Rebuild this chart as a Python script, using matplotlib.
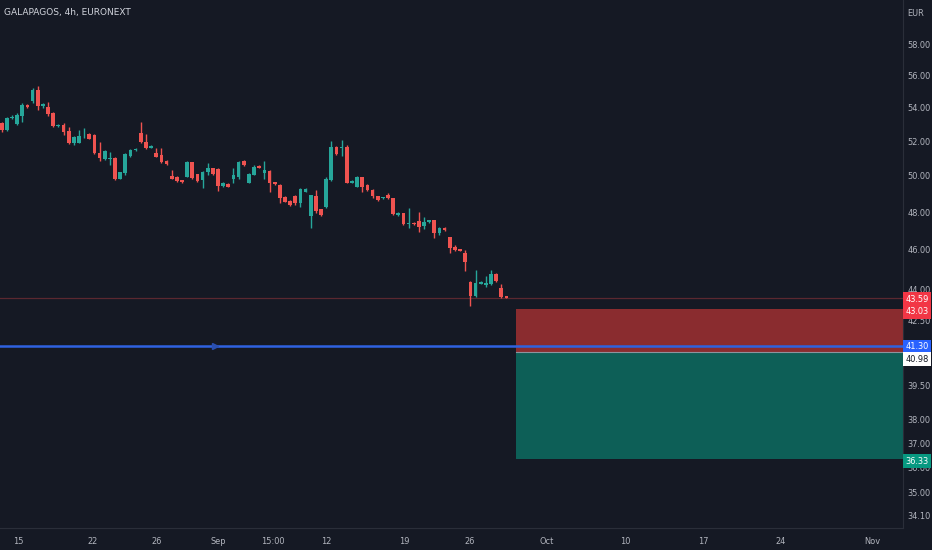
import numpy as np
import matplotlib
matplotlib.use('Agg')
import matplotlib.pyplot as plt
from matplotlib.ticker import FixedLocator, NullLocator
from matplotlib import font_manager

# 4h candles, GALAPAGOS (EURONEXT)
opens = [53.05, 52.65, 53.36, 53.02, 53.46, 54.14, 54.40, 55.07, 54.08, 54.02,
         53.69, 52.90, 52.96, 52.59, 51.87, 51.90, 52.33, 52.40, 52.36, 51.28,
         50.97, 50.96, 51.03, 49.85, 50.14, 51.14, 51.47, 52.49, 51.96, 51.60,
         51.31, 51.18, 50.84, 50.00, 49.95, 49.76, 49.95, 50.77, 50.09, 49.76,
         50.23, 50.43, 50.39, 49.45, 49.56, 49.81, 49.93, 50.84, 49.61, 50.05,
         50.56, 50.14, 50.29, 49.63, 49.49, 48.84, 48.62, 48.88, 48.48, 49.12,
         47.80, 48.88, 48.15, 48.27, 49.76, 51.67, 51.61, 51.63, 49.61, 49.39,
         49.91, 49.49, 49.21, 48.88, 48.75, 48.94, 48.75, 47.84, 47.93, 47.36,
         47.43, 47.52, 47.27, 47.45, 47.57, 46.86, 47.16, 46.67, 46.16, 46.04,
         45.85, 44.38, 43.69, 44.29, 44.22, 44.27, 44.77, 44.08, 43.66]
highs = [53.12, 53.44, 53.55, 53.69, 54.30, 54.20, 55.18, 55.32, 54.25, 54.36,
         53.75, 53.00, 53.08, 52.85, 52.30, 52.65, 52.77, 52.45, 52.40, 51.96,
         51.45, 51.37, 51.06, 50.22, 51.28, 51.52, 51.58, 53.10, 52.40, 51.75,
         51.57, 51.60, 50.88, 50.33, 49.98, 49.78, 50.84, 50.80, 50.12, 50.27,
         50.71, 50.46, 50.43, 49.65, 49.60, 50.46, 50.84, 50.88, 50.14, 50.61,
         50.60, 50.86, 50.33, 49.66, 49.52, 48.88, 48.66, 48.92, 49.30, 49.30,
         48.95, 49.21, 48.18, 49.95, 52.00, 51.72, 52.06, 51.76, 49.76, 49.99,
         49.95, 49.52, 49.25, 48.90, 48.84, 49.05, 48.79, 47.98, 47.96, 48.20,
         47.46, 47.98, 47.75, 47.60, 47.59, 47.22, 47.20, 46.69, 46.25, 46.06,
         45.99, 44.41, 44.97, 44.41, 44.66, 44.97, 44.80, 44.29, 43.68]
lows = [52.53, 52.61, 53.28, 52.94, 53.14, 54.00, 54.26, 53.85, 54.00, 53.48,
        52.85, 52.85, 52.36, 51.83, 51.79, 51.88, 52.18, 52.10, 51.24, 50.86,
        50.92, 50.61, 49.76, 49.82, 50.05, 51.10, 51.44, 51.87, 51.51, 51.57,
        51.05, 50.71, 50.62, 49.83, 49.68, 49.60, 49.91, 49.81, 49.63, 49.34,
        50.05, 50.03, 49.16, 49.40, 49.36, 49.58, 49.85, 50.58, 49.58, 50.02,
        50.42, 49.85, 49.12, 49.49, 48.49, 48.55, 48.34, 48.39, 48.25, 49.10,
        47.16, 47.93, 47.80, 48.21, 49.72, 51.18, 51.12, 49.58, 49.58, 49.36,
        49.09, 49.18, 48.75, 48.62, 48.71, 48.72, 47.84, 47.80, 47.33, 47.13,
        47.32, 46.95, 47.10, 47.42, 46.63, 46.77, 47.00, 45.82, 45.96, 45.92,
        44.92, 43.19, 43.64, 44.26, 44.12, 44.22, 44.38, 43.55, 43.55]
closes = [52.65, 53.38, 53.42, 53.55, 54.14, 54.05, 55.07, 54.09, 54.20, 53.61,
          52.89, 52.96, 52.55, 51.87, 52.26, 52.31, 52.37, 52.14, 51.28, 50.99,
          51.39, 51.03, 49.81, 50.19, 51.22, 51.47, 51.55, 51.93, 51.57, 51.72,
          51.10, 50.77, 50.67, 49.85, 49.71, 49.63, 50.80, 49.89, 49.72, 50.23,
          50.43, 50.09, 49.45, 49.60, 49.39, 50.05, 50.80, 50.61, 50.09, 50.52,
          50.46, 50.33, 49.61, 49.52, 48.75, 48.57, 48.37, 48.48, 49.25, 49.26,
          48.91, 48.05, 47.84, 49.80, 51.63, 51.24, 51.65, 49.61, 49.72, 49.95,
          49.39, 49.21, 48.88, 48.66, 48.81, 48.79, 47.87, 47.95, 47.36, 47.43,
          47.35, 47.18, 47.48, 47.57, 46.86, 47.13, 47.04, 46.08, 45.99, 45.95,
          45.39, 43.68, 44.33, 44.38, 44.33, 44.77, 44.41, 43.62, 43.59]

# time axis (bar index) labels
xtick_pos = [3.2, 17.7, 30, 42, 52.7, 63, 78.1, 90.9, 105.9, 121, 136.2, 151.3, 169]
xtick_labels = ['15', '22', '26', 'Sep', '15:00', '12', '19', '26', 'Oct', '10', '17', '24', 'Nov']
ytick_vals = [58.0, 56.0, 54.0, 52.0, 50.0, 48.0, 46.0, 44.0, 42.5, 39.5, 38.0, 37.0, 36.0, 35.0, 34.1]

# short position tool + lines
last_price = 43.59
stop_price = 43.03
entry_price = 40.98
target_price = 36.33
hline_price = 41.30
position_start = 99.9

BG = '#151924'
UP = '#26a69a'
DOWN = '#ef5350'
TXT = '#b2b5be'

# narrow font for the price scale (falls back to DejaVu Sans)
narrow = font_manager.FontProperties(family='DejaVu Sans', stretch='condensed', size=6.6)

fig = plt.figure(figsize=(9.32, 5.5), dpi=100, facecolor=BG)
ax = fig.add_axes([0, 22 / 550, 903 / 932, 528 / 550], facecolor=BG)
ax.set_yscale('log')
x_left, x_right = -0.33, 175.0
ax.set_xlim(x_left, x_right)
ax.set_ylim(33.63, 60.95)

o = np.array(opens)
h = np.array(highs)
l = np.array(lows)
c = np.array(closes)
x = np.arange(len(o))
colors = [UP if cc >= oo else DOWN for oo, cc in zip(o, c)]

ax.vlines(x, l, h, colors=colors, linewidth=1.0, zorder=3)
body_lo = np.minimum(o, c)
body_h = np.maximum(np.abs(c - o), 0.05)
ax.bar(x, body_h, bottom=body_lo, width=0.72, color=colors, linewidth=0, zorder=4)

# last price line
ax.axhline(last_price, color='#5b2830', linewidth=0.9, zorder=2)

# short position zones
ax.fill_between([position_start, x_right], entry_price, stop_price, color='#8a2c2f', linewidth=0, zorder=1)
ax.fill_between([position_start, x_right], target_price, entry_price, color='#0d5f57', linewidth=0, zorder=1)
ax.plot([position_start, x_right], [entry_price, entry_price], color='#8d939e', linewidth=0.8, zorder=2)

# horizontal line
ax.axhline(hline_price, color='#2f62e0', linewidth=1.8, zorder=5)
ax.plot([41.5], [hline_price], marker='>', markersize=4, color='#2a4fb0', zorder=6)

# axes styling
for side in ['top', 'left']:
    ax.spines[side].set_visible(False)
for side in ['right', 'bottom']:
    ax.spines[side].set_color('#2a2e39')
    ax.spines[side].set_linewidth(0.8)

ax.yaxis.tick_right()
ax.yaxis.set_major_locator(FixedLocator(ytick_vals))
ax.yaxis.set_minor_locator(NullLocator())
ax.set_yticklabels([f'{v:.2f}' for v in ytick_vals])
ax.tick_params(axis='y', length=0, pad=3, labelcolor=TXT)
for t in ax.get_yticklabels():
    t.set_fontproperties(narrow)

ax.set_xticks(xtick_pos)
ax.set_xticklabels(xtick_labels)
ax.tick_params(axis='x', length=0, pad=6.5, labelcolor=TXT)
for t in ax.get_xticklabels():
    t.set_fontproperties(narrow)


def price_tag(price, text, bg, fg, dy=0):
    ax.annotate(text, xy=(1, price), xycoords=('axes fraction', 'data'),
                xytext=(1.8, dy), textcoords='offset points', ha='left', va='center',
                fontproperties=narrow, color=fg, annotation_clip=False, zorder=10,
                bbox=dict(boxstyle='square,pad=0.25', fc=bg, ec='none'))


price_tag(last_price, f'{last_price:.2f}', '#f23645', 'white', -1.0)
price_tag(stop_price, f'{stop_price:.2f}', '#f23645', 'white', -2.0)
price_tag(hline_price, f'{hline_price:.2f}', '#2962ff', 'white', -1.0)
price_tag(entry_price, f'{entry_price:.2f}', 'white', '#131722', -4.8)
price_tag(target_price, f'{target_price:.2f}', '#089981', 'white', -1.2)

fig.text(907 / 932, 1 - 13 / 550, 'EUR', fontproperties=narrow, color=TXT, ha='left', va='center')
fig.text(4 / 932, 1 - 12 / 550, 'GALAPAGOS, 4h, EURONEXT', fontsize=6.5, color='#d1d4dc',
         ha='left', va='center')

fig.savefig('out.png', dpi=100, facecolor=BG)
